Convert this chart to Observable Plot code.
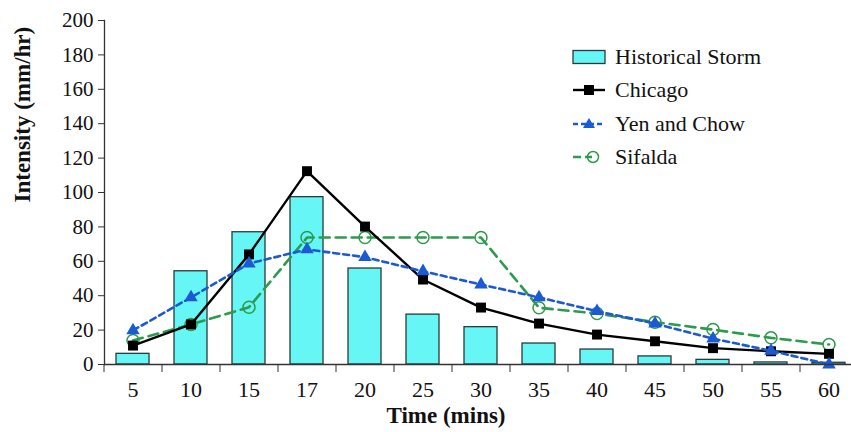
<!DOCTYPE html>
<html>
<head>
<meta charset="utf-8">
<script src="https://cdn.jsdelivr.net/npm/d3@7"></script>
<script src="https://cdn.jsdelivr.net/npm/@observablehq/plot@0.6"></script>
<style>
  html, body { margin: 0; padding: 0; background: #fff; }
  #wrap { position: relative; width: 851px; height: 432px; }
  #legend { position: absolute; left: 572px; top: 40px; font-size: 22px; color: #111; }
  #legend .row { display: flex; align-items: center; height: 33.5px; }
  #legend svg { width: 34px; height: 20px; margin-right: 9px; overflow: visible; }
</style>
</head>
<body>
<div id="wrap"></div>
<script>
const times = ["5","10","15","17","20","25","30","35","40","45","50","55","60"];
const historical = [6.2, 54.2, 76.9, 97.3, 55.8, 29, 21.7, 12.2, 8.7, 4.7, 2.7, 1.2, 1.0];
const chicago = [11, 23.3, 64, 112.4, 80.2, 49.4, 33.1, 23.8, 17.4, 13.5, 9.5, 7.7, 6.2];
const yenChow = [19.8, 39, 58.7, 66.9, 62.4, 54.2, 46.5, 39, 31, 23.8, 15, 8, 0];
const sifalda = [14, 23.3, 33.3, 73.8, 73.8, 73.8, 73.8, 33, 29.6, 24.6, 20.3, 15.5, 11.6];
const yTicks = [0, 20, 40, 60, 80, 100, 120, 140, 160, 180, 200];
const seriesNames = ["Historical Storm", "Chicago", "Yen and Chow", "Sifalda"];

const mk = (vals) => times.map((t, i) => ({t, v: vals[i]}));
const hist = mk(historical), chi = mk(chicago), yen = mk(yenChow), sif = mk(sifalda);

const BAR = "#66f6f6", BLACK = "#000", BLUE = "#1c5ad4", GREEN = "#2e9a4c";
const font = "'Liberation Serif', 'Times New Roman', serif";

const chart = Plot.plot({
  width: 851,
  height: 432,
  marginLeft: 104,
  marginRight: 0,
  marginTop: 20,
  marginBottom: 68,
  style: {fontSize: "21px", color: "#111", background: "#fff"},
  x: {type: "band", domain: times, range: [104, 858], paddingInner: 0.43, paddingOuter: 0.215},
  y: {domain: [0, 200]},
  marks: [
    Plot.barY(hist, {x: "t", y: "v", fill: BAR, stroke: "#2a3a3a", strokeWidth: 1.3}),
    Plot.line(sif, {x: "t", y: "v", stroke: GREEN, strokeWidth: 2.6, strokeDasharray: "10,6"}),
    Plot.dot(sif, {x: "t", y: "v", r: 6, stroke: GREEN, strokeWidth: 1.5, fill: "none"}),
    Plot.line(chi, {x: "t", y: "v", stroke: BLACK, strokeWidth: 2.4}),
    Plot.dot(chi, {x: "t", y: "v", symbol: "square", r: 5.6, fill: BLACK}),
    Plot.line(yen, {x: "t", y: "v", stroke: BLUE, strokeWidth: 2.6, strokeDasharray: "6,4"}),
    Plot.dot(yen, {x: "t", y: "v", symbol: "triangle", r: 5, fill: BLUE}),
    Plot.ruleY([0], {stroke: "#333", strokeWidth: 1.3}),
    Plot.frame({anchor: "left", stroke: "#333", strokeWidth: 1.3}),
    Plot.axisY({ticks: yTicks, tickSize: 6, tickPadding: 5, label: null, fontSize: 21, stroke: "#333"}),
    Plot.axisX({tickSize: 8, tickFormat: () => "", label: null, dx: -29, stroke: "#333"}),
    Plot.axisX({tickSize: 0, tickPadding: 17, label: null, fontSize: 22}),
    Plot.text(["Time (mins)"], {frameAnchor: "bottom", dy: 58, dx: -32, fontWeight: "bold", fontSize: 23}),
    Plot.text(["Intensity (mm/hr)"], {frameAnchor: "left", rotate: -90, dx: -82, dy: 10, fontWeight: "bold", fontSize: 23})
  ]
});
// apply serif font as an attribute on the svg and every text-bearing group
d3.select(chart).attr("font-family", font);
d3.select(chart).selectAll("g, text").attr("font-family", font);
const wrap = document.getElementById("wrap");
wrap.appendChild(chart);

// Legend overlay
const legend = document.createElement("div");
legend.id = "legend";
legend.setAttribute("style", "font-family: " + font);
const symbols = [
  `<rect x="1" y="3.5" width="32" height="13" fill="${BAR}" stroke="#2a3a3a" stroke-width="1.3"/>`,
  `<line x1="1" y1="10" x2="33" y2="10" stroke="${BLACK}" stroke-width="2.4"/><rect x="12" y="5" width="10" height="10" fill="${BLACK}"/>`,
  `<line x1="1" y1="10" x2="33" y2="10" stroke="${BLUE}" stroke-width="2.4" stroke-dasharray="5,3"/><path d="M17,4 L23,14 L11,14 Z" fill="${BLUE}"/>`,
  `<line x1="1" y1="10" x2="20" y2="10" stroke="${GREEN}" stroke-width="2.4" stroke-dasharray="8,4"/><circle cx="21" cy="10" r="5.5" fill="none" stroke="${GREEN}" stroke-width="1.5"/>`
];
seriesNames.forEach((name, i) => {
  const row = document.createElement("div");
  row.className = "row";
  const sym = document.createElementNS("http://www.w3.org/2000/svg", "svg");
  sym.setAttribute("viewBox", "0 0 34 20");
  sym.innerHTML = symbols[i];
  const span = document.createElement("span");
  span.style.fontFamily = font;
  span.textContent = name;
  row.appendChild(sym);
  row.appendChild(span);
  legend.appendChild(row);
});
wrap.appendChild(legend);
</script>
</body>
</html>
